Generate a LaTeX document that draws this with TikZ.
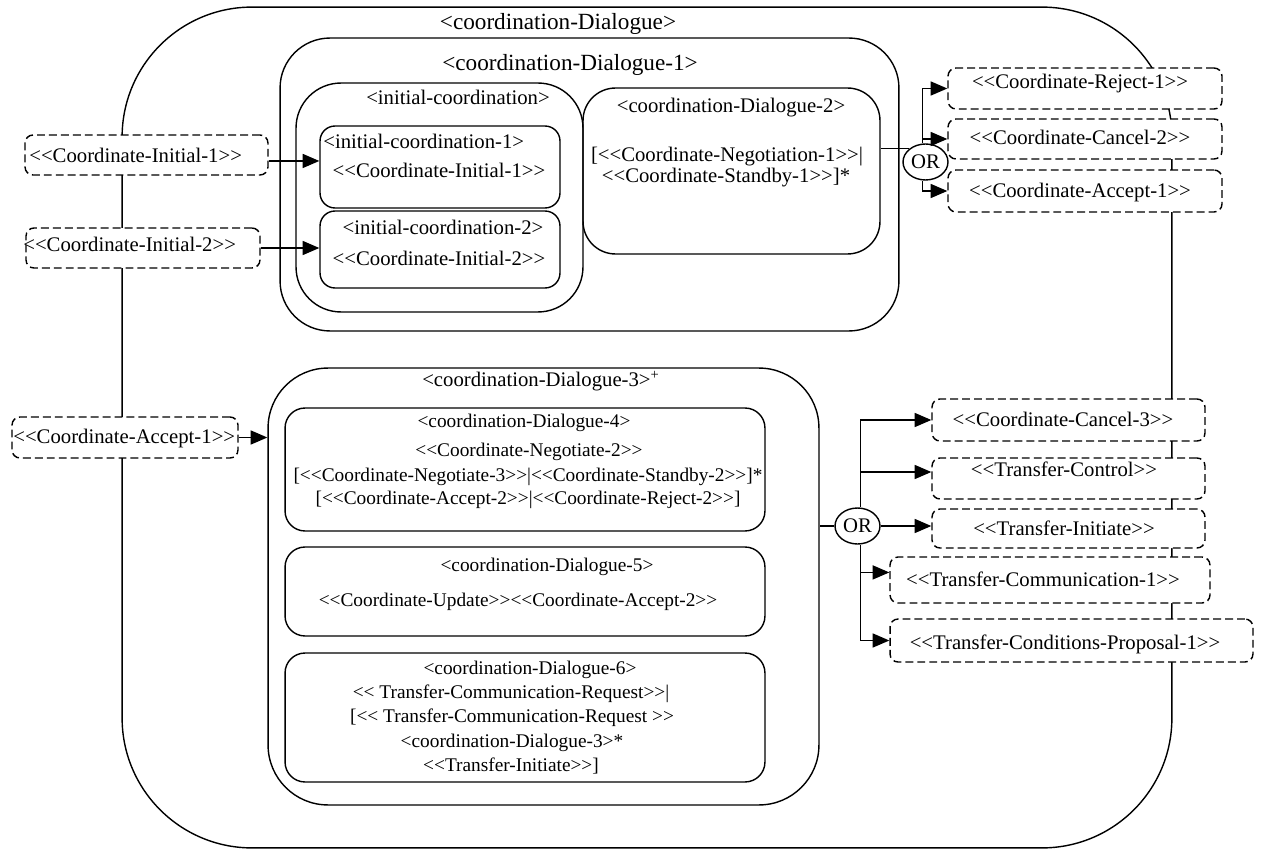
\documentclass[tikz,border=0pt]{standalone}
\usepackage{fontspec}
\setmainfont{Liberation Serif}[Ligatures=TeXOff]
\usetikzlibrary{shapes.geometric,arrows.meta}

\tikzset{
  frame/.style={draw, rectangle, line width=0.8pt, inner sep=0pt},
  msgbox/.style={draw, rectangle, line width=0.8pt, inner sep=0pt, fill=white,
                 dash pattern=on 4.5pt off 2.3pt, rounded corners=0.16cm},
  lbl/.style={inner sep=0pt, text height=8pt, text depth=2.5pt,
              font=\fontsize{11.8}{14}\selectfont},
  lblsm/.style={lbl, font=\fontsize{11}{13}\selectfont},
  lblbig/.style={lbl, text height=9pt, text depth=2.8pt, font=\fontsize{13.2}{16}\selectfont},
  orgate/.style={draw, ellipse, line width=0.8pt, fill=white, minimum width=0.9cm,
                 minimum height=0.72cm, inner sep=0pt, font=\fontsize{11.8}{14}\selectfont},
  link/.style={line width=0.8pt},
  arr/.style={link, -{Triangle[length=9.5pt,width=8pt]}},
}

\begin{document}
\begin{tikzpicture}[x=0.02cm, y=-0.02cm]
\useasboundingbox (0,0) rectangle (1264,851);

% outermost dialogue
\node[frame, rounded corners=2.6cm, minimum width=21cm, minimum height=16.82cm] (outer) at (647,427.5) {};
\node[lblbig] (touter) at (558,24) {<coordination-Dialogue>};

% coordination-Dialogue-1 and its parts
\node[frame, rounded corners=1cm, minimum width=12.38cm, minimum height=5.86cm] (d1) at (589.5,184.5) {};
\node[lblbig] (td1) at (570,65) {<coordination-Dialogue-1>};

\node[frame, rounded corners=0.9cm, minimum width=5.74cm, minimum height=4.58cm] (ic) at (439.5,197.5) {};
\node[lbl] (tic) at (458,100) {<initial-coordination>};

\node[frame, rounded corners=0.3cm, minimum width=4.8cm, minimum height=1.64cm] (ic1) at (440,167) {};
\node[lbl, anchor=west] (tic1a) at (323,144) {<initial-coordination-1>};
\node[lbl] (tic1b) at (439,173) {<<Coordinate-Initial-1>>};

\node[frame, rounded corners=0.3cm, minimum width=4.8cm, minimum height=1.54cm] (ic2) at (440,249.5) {};
\node[lbl] (tic2a) at (443,230) {<initial-coordination-2>};
\node[lbl] (tic2b) at (439,261) {<<Coordinate-Initial-2>>};

\node[frame, rounded corners=0.65cm, minimum width=5.94cm, minimum height=3.32cm] (d2) at (731.5,171) {};
\node[lbl] (td2a) at (731,108) {<coordination-Dialogue-2>};
\node[lbl] (td2b) at (727,157) {[<<Coordinate-Negotiation-1>>|};
\node[lbl] (td2c) at (726,178) {<<Coordinate-Standby-1>>]*};

% coordination-Dialogue-3 and its parts
\node[frame, rounded corners=1.2cm, minimum width=11.02cm, minimum height=8.74cm] (d3) at (543.5,586.5) {};
\node[lbl] (td3) at (541,382) {<coordination-Dialogue-3>\textsuperscript{+}};

\node[frame, rounded corners=0.4cm, minimum width=9.6cm, minimum height=2.46cm] (d4) at (525,469.5) {};
\node[lblsm] (td4a) at (524,423) {<coordination-Dialogue-4>};
\node[lblsm] (td4b) at (529,452) {<<Coordinate-Negotiate-2>>};
\node[lblsm] (td4c) at (528,477) {[<<Coordinate-Negotiate-3>>|<<Coordinate-Standby-2>>]*};
\node[lblsm] (td4d) at (528,500) {[<<Coordinate-Accept-2>>|<<Coordinate-Reject-2>>]};

\node[frame, rounded corners=0.4cm, minimum width=9.6cm, minimum height=1.78cm] (d5) at (525,591.5) {};
\node[lblsm] (td5a) at (547,567) {<coordination-Dialogue-5>};
\node[lblsm] (td5b) at (518,602) {<<Coordinate-Update>><<Coordinate-Accept-2>>};

\node[frame, rounded corners=0.4cm, minimum width=9.6cm, minimum height=2.58cm] (d6) at (525,717.5) {};
\node[lblsm] (td6a) at (530,670) {<coordination-Dialogue-6>};
\node[lblsm] (td6b) at (511,694) {<< Transfer-Communication-Request>>|};
\node[lblsm] (td6c) at (512,718) {[<< Transfer-Communication-Request >>};
\node[lblsm] (td6d) at (512,743) {<coordination-Dialogue-3>*};
\node[lblsm] (td6e) at (511,767) {<<Transfer-Initiate>>]};

% incoming messages on the left
\node[msgbox, minimum width=4.86cm, minimum height=0.8cm] (ci1) at (146.5,155) {};
\node[lbl, anchor=west] (tci1) at (29,158) {<<Coordinate-Initial-1>>};
\node[msgbox, minimum width=4.68cm, minimum height=0.8cm] (ci2) at (143,248) {};
\node[lbl, anchor=west] (tci2) at (23,247) {<<Coordinate-Initial-2>>};
\node[msgbox, minimum width=4.52cm, minimum height=0.82cm] (ca1) at (125,437.5) {};
\node[lbl, anchor=west] (tca1) at (13,439) {<<Coordinate-Accept-1>>};

% outgoing messages, upper right
\node[msgbox, minimum width=5.48cm, minimum height=0.82cm] (rj1) at (1085,88.5) {};
\node[lbl] (trj1) at (1080,84) {<<Coordinate-Reject-1>>};
\node[msgbox, minimum width=5.48cm, minimum height=0.8cm] (cc2) at (1085,139) {};
\node[lbl] (tcc2) at (1080,140) {<<Coordinate-Cancel-2>>};
\node[msgbox, minimum width=5.48cm, minimum height=0.84cm] (ac1) at (1085,191) {};
\node[lbl] (tac1) at (1080,193) {<<Coordinate-Accept-1>>};

% outgoing messages, lower right
\node[msgbox, minimum width=5.46cm, minimum height=0.84cm] (cc3) at (1068.5,420) {};
\node[lbl] (tcc3) at (1063,422) {<<Coordinate-Cancel-3>>};
\node[msgbox, minimum width=5.46cm, minimum height=0.82cm] (tc) at (1068.5,478.5) {};
\node[lbl] (ttc) at (1064,472) {<<Transfer-Control>>};
\node[msgbox, minimum width=5.46cm, minimum height=0.78cm] (ti) at (1068.5,528.5) {};
\node[lbl] (tti) at (1064,531) {<<Transfer-Initiate>>};
\node[msgbox, minimum width=6.4cm, minimum height=0.92cm] (tcm) at (1050,580) {};
\node[lbl] (ttcm) at (1043,582) {<<Transfer-Communication-1>>};
\node[msgbox, minimum width=7.26cm, minimum height=0.86cm] (tcp) at (1071.5,640.5) {};
\node[lbl] (ttcp) at (1065,645) {<<Transfer-Conditions-Proposal-1>>};

% choice gates
\node[orgate] (or1) at (925.5,162) {OR};
\node[orgate] (or2) at (857.5,526) {OR};

% connectors
\draw[arr] ([yshift=-3.4pt]ci1.east) -- ([yshift=-3.4pt]ci1.east -| ic1.west);
\draw[arr] (ci2.east) -- (ci2.east -| ic2.west);
\draw[arr] (ca1.east) -- (ca1.east -| d3.west);

\draw[link] (or1.140) -- (or1.140 -| d2.east);
\draw[arr] (or1.100) |- (rj1.west);
\draw[arr] (or1.100) |- (cc2.west);
\draw[arr] (or1.-100) |- (ac1.west);

\draw[link] (or2.west) -- (or2.west -| d3.east);
\draw[arr] (or2.80) |- (cc3.west);
\draw[arr] (or2.80 |- ttc) -- (ttc -| tc.west);
\draw[arr] (or2.east) -- (or2.east -| ti.west);
\draw[arr] (or2.-80) |- (tcp.west);
\draw[arr] (or2.-80 |- ttcm.north) -- (ttcm.north -| tcm.west);
\end{tikzpicture}
\end{document}
